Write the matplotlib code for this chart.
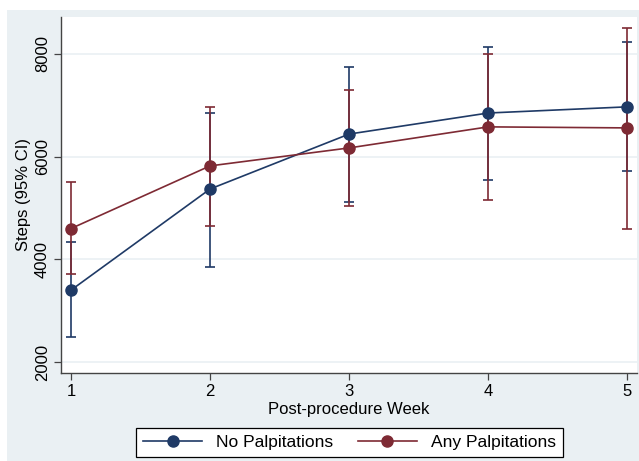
import matplotlib
matplotlib.use("Agg")
import matplotlib.pyplot as plt
from matplotlib.patches import Rectangle

plt.rcParams['font.family'] = ['Liberation Sans', 'DejaVu Sans']

weeks = [1, 2, 3, 4, 5]
no_palp_mean = [3400, 5370, 6440, 6850, 6970]
no_palp_lo = [2490, 3850, 5120, 5550, 5720]
no_palp_hi = [4340, 6850, 7750, 8140, 8230]
any_palp_mean = [4600, 5820, 6170, 6580, 6560]
any_palp_lo = [3720, 4650, 5040, 5160, 4590]
any_palp_hi = [5510, 6970, 7300, 8000, 8510]
yticks = [2000, 4000, 6000, 8000]

navy = '#1f3a66'
maroon = '#7e2a34'
bg = '#EAF0F3'

fig = plt.figure(figsize=(6.39, 4.61), dpi=100, facecolor='white')
fig.patches.append(Rectangle((7/639, 0), 1 - 7/639, 1 - 10/461, transform=fig.transFigure,
                             facecolor=bg, edgecolor='none', zorder=-10))
ax = fig.add_axes([61/639, 1 - 373/461, (637 - 61)/639, (373 - 17)/461])
ax.set_facecolor('white')

def draw(mean, lo, hi, color, label):
    yerr = [[m - l for m, l in zip(mean, lo)], [h - m for m, h in zip(mean, hi)]]
    ax.errorbar(weeks, mean, yerr=yerr, fmt='none', ecolor=color, elinewidth=1.2,
                capsize=3.4, capthick=1.2, zorder=3)
    ax.plot(weeks, mean, '-o', color=color, lw=1.2, markersize=8, label=label, zorder=4)

draw(no_palp_mean, no_palp_lo, no_palp_hi, navy, 'No Palpitations')
draw(any_palp_mean, any_palp_lo, any_palp_hi, maroon, 'Any Palpitations')

ax.set_xlim(0.928, 5.07)
ax.set_ylim(1786, 8720)
ax.set_xticks(weeks)
ax.set_yticks(yticks)
ax.set_yticklabels([str(v) for v in yticks], rotation=90, va='center')
ax.grid(axis='y', color=bg, lw=1.2, zorder=0)
ax.set_axisbelow(True)
for s in ['top', 'right']:
    ax.spines[s].set_visible(False)
for s in ['left', 'bottom']:
    ax.spines[s].set_color('#444444')
    ax.spines[s].set_linewidth(1.0)
ax.tick_params(axis='both', direction='out', length=5, width=0.9, color='#444444',
               labelsize=12, pad=3)
ax.set_xlabel('Post-procedure Week', fontsize=12, labelpad=2)
ax.set_ylabel('Steps (95% CI)', fontsize=12, labelpad=3)

leg = fig.legend(loc='center', bbox_to_anchor=(0.547, 0.040), ncol=2, fontsize=12.5,
                 frameon=True, fancybox=False, edgecolor='black', facecolor='white',
                 framealpha=1, handlelength=3.4, columnspacing=1.4, borderpad=0.4)
leg.get_frame().set_linewidth(0.9)

fig.savefig('out.png', dpi=100, facecolor=fig.get_facecolor())
